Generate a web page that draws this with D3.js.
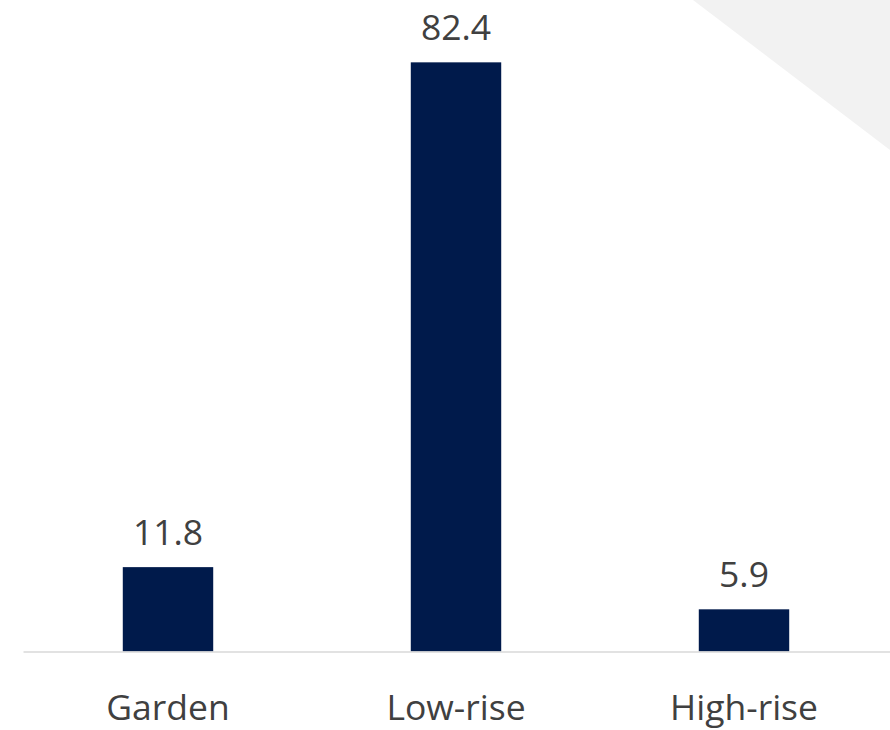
<!DOCTYPE html>
<html>
<head>
<meta charset="utf-8">
<script src="https://cdn.jsdelivr.net/npm/d3@7"></script>
<style>
  html, body { margin: 0; padding: 0; background: #fff; }
  svg { display: block; }
</style>
</head>
<body>
<svg id="chart" width="890" height="730"></svg>
<script>
const categories = ["Garden", "Low-rise", "High-rise"];
const values = [11.8, 82.4, 5.9];
const valueLabels = ["11.8", "82.4", "5.9"];

const W = 890, H = 730;
const svg = d3.select("#chart");

// decorative corner triangle
svg.append("polygon")
  .attr("points", `693,0 ${W},0 ${W},150`)
  .attr("fill", "#f2f2f2");

const x = d3.scaleBand()
  .domain(categories)
  .range([24, 888])
  .paddingInner(0.686)
  .paddingOuter(0.343);

const y = d3.scaleLinear()
  .domain([0, 90])
  .range([651.5, 8]);

const font = "'Open Sans', 'Noto Sans', sans-serif";

// bars
svg.selectAll("rect.bar")
  .data(values)
  .join("rect")
  .attr("class", "bar")
  .attr("x", (d, i) => x(categories[i]))
  .attr("width", x.bandwidth())
  .attr("y", d => y(d))
  .attr("height", d => y(0) - y(d))
  .attr("fill", "#001a4b");

// baseline axis
const axis = svg.append("g")
  .attr("transform", `translate(0,${y(0) + 0.5})`)
  .call(d3.axisBottom(x).tickSize(0).tickPadding(0).tickFormat(""));
axis.select(".domain")
  .attr("d", `M23.5,0H${W}`)
  .attr("stroke", "#d9d9d9")
  .attr("stroke-width", 1.5);

// category labels
svg.selectAll("text.cat")
  .data(categories)
  .join("text")
  .attr("class", "cat")
  .attr("x", d => x(d) + x.bandwidth() / 2)
  .attr("y", 720)
  .attr("text-anchor", "middle")
  .attr("font-family", font)
  .attr("font-size", 35.5)
  .attr("fill", "#404040")
  .text(d => d);

// value labels
svg.selectAll("text.val")
  .data(values)
  .join("text")
  .attr("class", "val")
  .attr("x", (d, i) => x(categories[i]) + x.bandwidth() / 2)
  .attr("y", d => y(d) - 22)
  .attr("text-anchor", "middle")
  .attr("font-family", font)
  .attr("font-size", 35.5)
  .attr("fill", "#404040")
  .text((d, i) => valueLabels[i]);
</script>
</body>
</html>
